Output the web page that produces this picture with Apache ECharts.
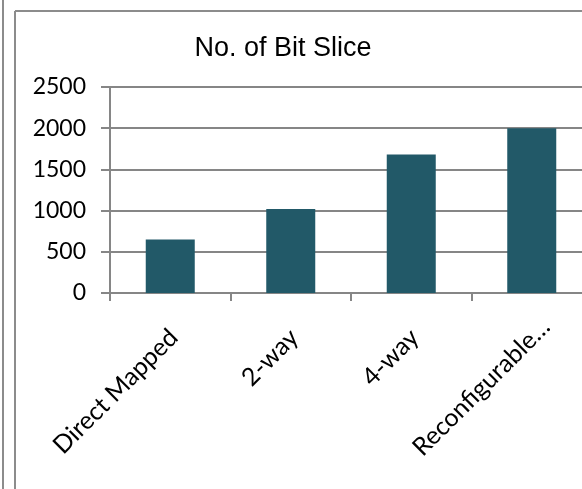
<!DOCTYPE html>
<html>
<head>
<meta charset="utf-8">
<script src="https://cdn.jsdelivr.net/npm/echarts@6/dist/echarts.min.js"></script>
<style>
  html, body { margin: 0; padding: 0; background: #fff; overflow: hidden; width: 582px; height: 489px; }
  /* the plot runs a little past the right edge of the page */
  #chart { width: 592px; height: 489px; }
</style>
</head>
<body>
<div id="chart"></div>
<script>
// Bit-slice usage per cache organisation
const categories = ['Direct Mapped', '2-way', '4-way', 'Reconfigurable…'];
const bitSlices = [650, 1020, 1680, 2000];
const yTicks = [0, 500, 1000, 1500, 2000, 2500];

const chart = echarts.init(document.getElementById('chart'), null, { renderer: 'canvas' });

const frameColor = '#8c8c8c';
const gridColor = '#868686';

// the clipped last label sits a little further along its baseline
const axisData = categories.map((name, i) =>
  i === categories.length - 1
    ? { value: name, textStyle: { padding: [0, -20, 0, 0] } }
    : name
);

chart.setOption({
  animation: false,
  backgroundColor: '#ffffff',
  title: {
    text: 'No. of Bit Slice',
    left: 278,
    textAlign: 'center',
    top: 30,
    textStyle: {
      fontFamily: 'Liberation Sans, Arial, sans-serif',
      fontWeight: 'normal',
      fontSize: 27,
      color: '#000'
    }
  },
  graphic: [
    { type: 'line', shape: { x1: 3, y1: 0, x2: 3, y2: 489 }, style: { stroke: frameColor, lineWidth: 2 } },
    { type: 'line', shape: { x1: 15, y1: 11, x2: 15, y2: 489 }, style: { stroke: frameColor, lineWidth: 2 } },
    { type: 'line', shape: { x1: 15, y1: 11, x2: 592, y2: 11 }, style: { stroke: frameColor, lineWidth: 2 } }
  ],
  grid: {
    left: 110,
    top: 87,
    height: 206,
    right: 0,
    containLabel: false
  },
  xAxis: {
    type: 'category',
    data: axisData,
    boundaryGap: true,
    axisLine: { show: true, lineStyle: { color: gridColor, width: 2 } },
    axisTick: { show: true, alignWithLabel: false, length: 8, lineStyle: { color: gridColor, width: 2 } },
    axisLabel: {
      rotate: 45,
      interval: 0,
      margin: 44,
      padding: [0, -5, 0, 0],
      fontFamily: 'Lato, sans-serif',
      fontSize: 25,
      color: '#000'
    }
  },
  yAxis: {
    type: 'value',
    min: yTicks[0],
    max: yTicks[yTicks.length - 1],
    interval: 500,
    axisLine: { show: true, lineStyle: { color: gridColor, width: 2 } },
    axisTick: { show: true, inside: false, length: 9, lineStyle: { color: gridColor, width: 2 } },
    splitLine: { show: true, lineStyle: { color: gridColor, width: 2 } },
    axisLabel: {
      margin: 24,
      formatter: v => String(v),
      fontFamily: 'Lato, sans-serif',
      fontSize: 23,
      color: '#000'
    }
  },
  series: [{
    type: 'bar',
    data: bitSlices,
    barWidth: 49,
    itemStyle: { color: '#225968' }
  }]
});
</script>
</body>
</html>
